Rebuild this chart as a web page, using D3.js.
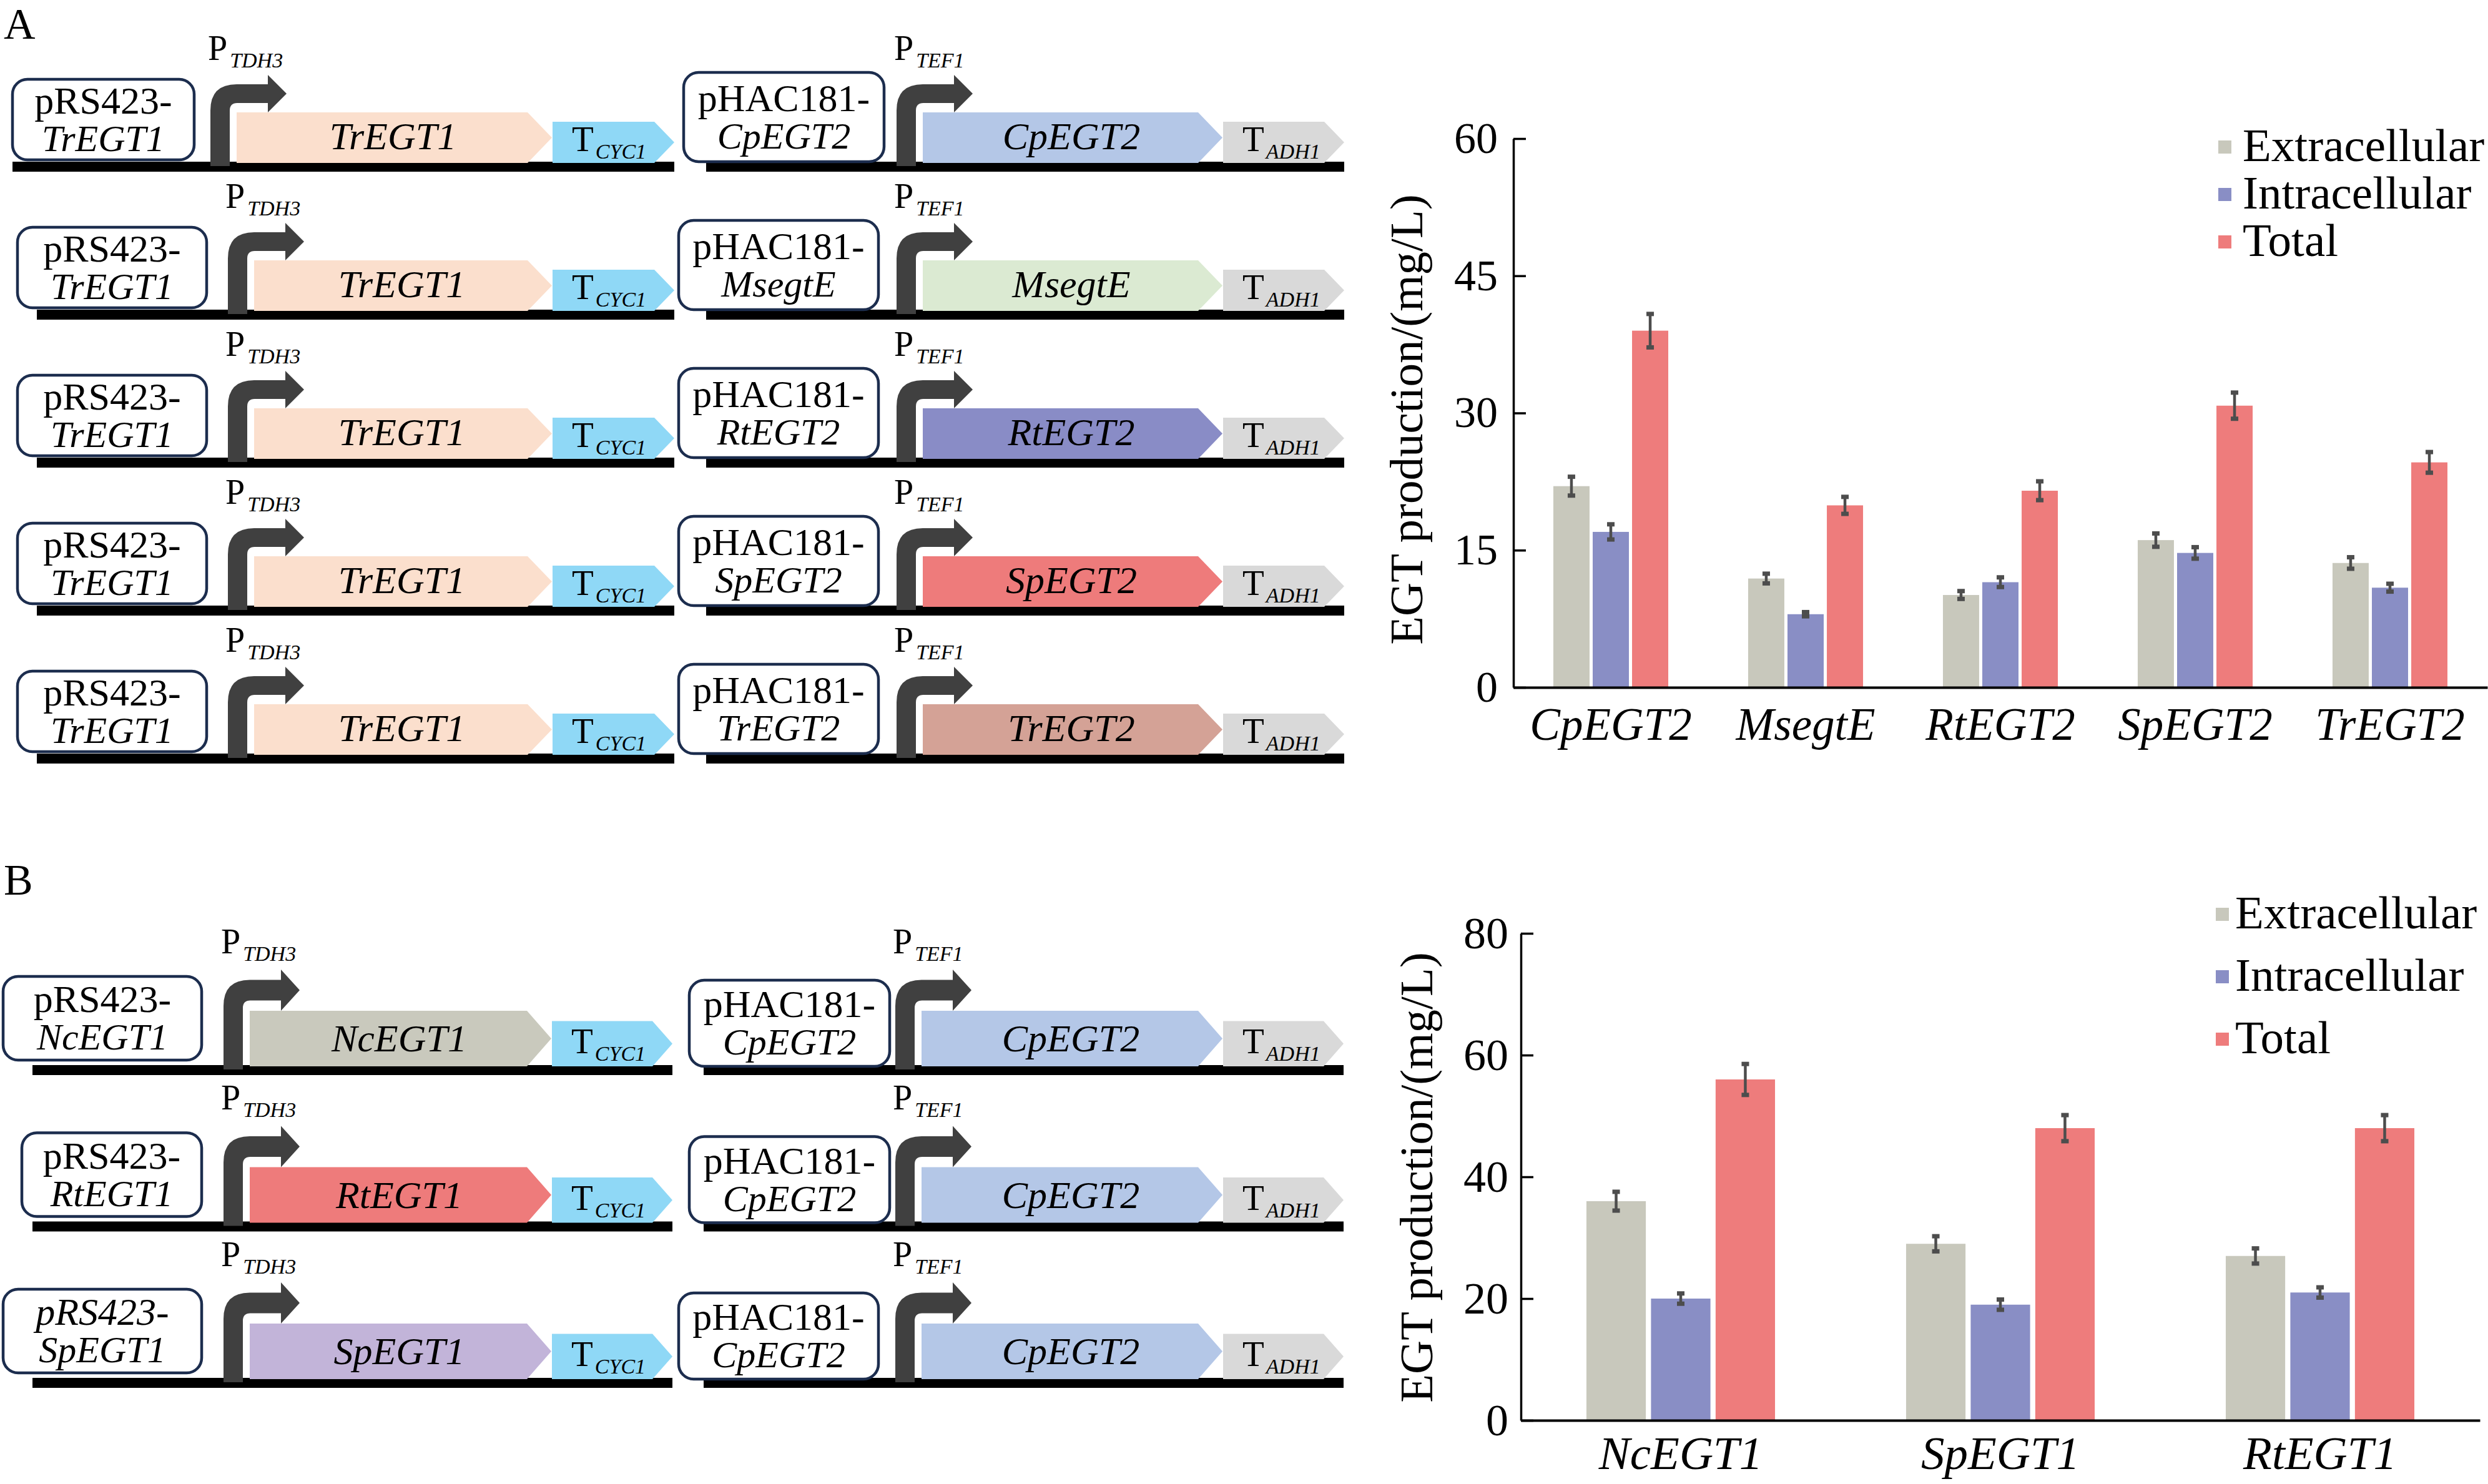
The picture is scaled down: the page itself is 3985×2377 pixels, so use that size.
<!DOCTYPE html>
<html>
<head>
<meta charset="utf-8">
<script src="https://cdn.jsdelivr.net/npm/d3@7"></script>
<style>
  body { margin: 0; background: #fff; }
  text { font-family: "Liberation Serif", "Times New Roman", serif; }
</style>
</head>
<body>
<div id="chart"></div>
<script>
const W = 3985, H = 2377;

// ---- bar chart data ----
const series = ["Extracellular", "Intracellular", "Total"];
const seriesColors = ["#c8c8bc", "#898ec5", "#ee7c7c"];

const catsA = ["CpEGT2", "MsegtE", "RtEGT2", "SpEGT2", "TrEGT2"];
const extA = [22.0, 11.9, 10.1, 16.1, 13.6];
const intA = [17.0, 8.0, 11.5, 14.7, 10.9];
const totA = [39.0, 19.9, 21.5, 30.8, 24.6];
const extErrA = [1.2, 0.7, 0.6, 0.9, 0.8];
const intErrA = [1.0, 0.4, 0.7, 0.8, 0.6];
const totErrA = [2.0, 1.1, 1.2, 1.6, 1.3];
const ticksA = [0, 15, 30, 45, 60];

const catsB = ["NcEGT1", "SpEGT1", "RtEGT1"];
const extB = [36, 29, 27];
const intB = [20, 19, 21];
const totB = [56, 48, 48];
const extErrB = [1.8, 1.5, 1.5];
const intErrB = [1.1, 1.1, 1.1];
const totErrB = [2.8, 2.4, 2.4];
const ticksB = [0, 20, 40, 60, 80];

// ---- construct data ----
const leftGenesA = ["TrEGT1", "TrEGT1", "TrEGT1", "TrEGT1", "TrEGT1"];
const rightGenesA = ["CpEGT2", "MsegtE", "RtEGT2", "SpEGT2", "TrEGT2"];
const leftGenesB = ["NcEGT1", "RtEGT1", "SpEGT1"];
const rightGenesB = ["CpEGT2", "CpEGT2", "CpEGT2"];

const geneColors = {
  TrEGT1: "#fbdfcd", CpEGT2: "#b4c7e7", MsegtE: "#dbead2", RtEGT2: "#898cc6",
  SpEGT2: "#ee7b7b", TrEGT2: "#d4a296", NcEGT1: "#c9c9bd", RtEGT1: "#ee7b7b",
  SpEGT1: "#c2b4d9"
};

const svg = d3.select("#chart").append("svg")
  .attr("width", W).attr("height", H)
  .attr("viewBox", `0 0 ${W} ${H}`);

// panel letters
svg.append("text").attr("x", 6).attr("y", 62).attr("font-size", 70).text("A");
svg.append("text").attr("x", 6).attr("y", 1433).attr("font-size", 70).text("B");

// ---------- genetic constructs ----------
function promoterPath(sx, yc, k) {
  const w = 31, t = 30 * k, R = 42, r = 12;
  const top = yc - t / 2, bot = yc + t / 2;
  const hb = sx + 92, tip = sx + 122, hh = 30 * k;
  const p = d3.path();
  p.moveTo(sx, 7);
  p.lineTo(sx, top + R);
  p.quadraticCurveTo(sx, top, sx + R, top);
  p.lineTo(hb, top);
  p.lineTo(hb, yc - hh);
  p.lineTo(tip, yc);
  p.lineTo(hb, yc + hh);
  p.lineTo(hb, bot);
  p.lineTo(sx + w + r, bot);
  p.quadraticCurveTo(sx + w, bot, sx + w, bot + r);
  p.lineTo(sx + w, 7);
  p.closePath();
  return p.toString();
}

function arrowShape(x0, x1, top, bot, head) {
  const mid = (top + bot) / 2;
  return `M${x0},${top}L${x1 - head},${top}L${x1},${mid}L${x1 - head},${bot}L${x0},${bot}Z`;
}

function construct(g, bb, o) {
  const k = o.k;
  const row = g.append("g").attr("transform", `translate(0,${bb})`);
  // backbone
  row.append("rect").attr("x", o.bbX0).attr("y", 0).attr("width", o.bbX1 - o.bbX0)
    .attr("height", 16).attr("fill", "#000");
  // gene
  const gx0 = o.stemX + 42, gx1 = o.termX0 - 1;
  row.append("path").attr("d", arrowShape(gx0, gx1, -79 * k, 2, 39))
    .attr("fill", geneColors[o.gene]);
  row.append("text").attr("x", (gx0 + gx1) / 2 - 2).attr("y", -20 * k)
    .attr("text-anchor", "middle").attr("font-size", 62).attr("font-style", "italic")
    .text(o.gene);
  // terminator
  row.append("path").attr("d", arrowShape(o.termX0, o.termX1, -64 * k, 2, 32))
    .attr("fill", o.termColor);
  const tt = row.append("text").attr("x", o.termX0 + 31).attr("y", -17 * k)
    .attr("font-size", 57).text("T");
  tt.append("tspan").attr("dx", 3).attr("dy", 12).attr("font-size", 34)
    .attr("font-style", "italic").text(o.term);
  // promoter
  row.append("path").attr("d", promoterPath(o.stemX, -109 * k, k))
    .attr("fill", "#404040");
  const pt = row.append("text").attr("x", o.stemX - 4).attr("y", -163 * k)
    .attr("font-size", 56).text("P");
  pt.append("tspan").attr("dx", 4).attr("dy", 12).attr("font-size", 34)
    .attr("font-style", "italic").text(o.prom);
  // plasmid box
  const [bx0, bx1] = o.box, [by0, by1] = o.boxY;
  row.append("rect").attr("x", bx0).attr("y", by0)
    .attr("width", bx1 - bx0).attr("height", by1 - by0)
    .attr("rx", 24).attr("fill", "#fff").attr("stroke", "#1c2d4e").attr("stroke-width", 4.5);
  const mid = (by0 + by1) / 2, cx = (bx0 + bx1) / 2;
  row.append("text").attr("x", cx).attr("y", mid - 10).attr("text-anchor", "middle")
    .attr("font-size", 62).attr("font-style", o.line1Italic ? "italic" : "normal")
    .text(o.plasmid + "-");
  row.append("text").attr("x", cx).attr("y", mid + 50).attr("text-anchor", "middle")
    .attr("font-size", 60).attr("font-style", "italic").text(o.gene);
}

const gA = svg.append("g");
const rowA = d3.scalePoint().domain(d3.range(leftGenesA.length)).range([259, 1207]);
leftGenesA.forEach((gene, i) => {
  construct(gA, rowA(i), {
    k: 1, gene, plasmid: "pRS423", prom: "TDH3", term: "CYC1", termColor: "#8fd8f6",
    bbX0: i === 0 ? 20 : 59, bbX1: 1080, stemX: i === 0 ? 337 : 365,
    termX0: 885, termX1: 1080,
    box: i === 0 ? [20, 311] : [28, 331], boxY: [-132, -3]
  });
});
rightGenesA.forEach((gene, i) => {
  construct(gA, rowA(i), {
    k: 1, gene, plasmid: "pHAC181", prom: "TEF1", term: "ADH1", termColor: "#d9d9d9",
    bbX0: 1131, bbX1: 2153, stemX: 1436, termX0: 1959, termX1: 2153,
    box: i === 0 ? [1095, 1416] : [1087, 1407], boxY: [-143, 0]
  });
});

const gB = svg.append("g");
const rowB = d3.scalePoint().domain(d3.range(leftGenesB.length)).range([1706, 2207]);
leftGenesB.forEach((gene, i) => {
  construct(gB, rowB(i), {
    k: 1.1, gene, plasmid: "pRS423", prom: "TDH3", term: "CYC1", termColor: "#8fd8f6",
    line1Italic: i === 2,
    bbX0: 52, bbX1: 1077, stemX: 358, termX0: 884, termX1: 1077,
    box: i === 1 ? [35, 323] : [5, 323], boxY: [-142, -8]
  });
});
rightGenesB.forEach((gene, i) => {
  construct(gB, rowB(i), {
    k: 1.1, gene, plasmid: "pHAC181", prom: "TEF1", term: "ADH1", termColor: "#d9d9d9",
    bbX0: 1127, bbX1: 2152, stemX: 1434, termX0: 1959, termX1: 2152,
    box: i === 2 ? [1087, 1407] : [1104, 1425], boxY: [-136, 2]
  });
});

// ---------- bar charts ----------
function barChart(o) {
  const g = svg.append("g");
  const y = d3.scaleLinear().domain([0, o.max]).range([o.y0, o.y1]);
  const x0 = d3.scaleBand().domain(o.cats).range([o.xa, o.xb])
    .paddingInner(0.41).paddingOuter(0.205);
  const x1 = d3.scaleBand().domain(series).range([0, x0.bandwidth()]).paddingInner(0.08);

  const groups = o.cats.map((c, i) => series.map((s, j) => ({
    cat: c, s, v: o.vals[j][i], e: o.errs[j][i], color: seriesColors[j]
  })));

  const grp = g.selectAll("g.grp").data(groups).join("g")
    .attr("class", "grp")
    .attr("transform", d => `translate(${x0(d[0].cat)},0)`);

  grp.selectAll("rect.bar").data(d => d).join("rect")
    .attr("class", "bar")
    .attr("x", d => x1(d.s)).attr("width", x1.bandwidth())
    .attr("y", d => y(d.v)).attr("height", d => y(0) - y(d.v))
    .attr("fill", d => d.color);

  const eb = grp.selectAll("g.err").data(d => d).join("g").attr("class", "err")
    .attr("transform", d => `translate(${x1(d.s) + x1.bandwidth() / 2},0)`);
  eb.append("line")
    .attr("y1", d => y(d.v + d.e)).attr("y2", d => y(d.v - d.e))
    .attr("stroke", "#4d4d4d").attr("stroke-width", 4.5);
  eb.append("rect").attr("x", -6).attr("width", 12).attr("height", 7)
    .attr("y", d => y(d.v + d.e) - 1).attr("fill", "#4d4d4d");
  eb.append("rect").attr("x", -6).attr("width", 12).attr("height", 7)
    .attr("y", d => y(d.v - d.e) - 6).attr("fill", "#4d4d4d");

  // y axis
  const ya = g.append("g").attr("transform", `translate(${o.xa},0)`)
    .call(d3.axisLeft(y).tickValues(o.ticks).tickSize(-20).tickSizeOuter(0).tickPadding(o.tickPad));
  ya.selectAll("path,line").attr("stroke", "#000").attr("stroke-width", 3.5);
  ya.selectAll("text").attr("font-size", o.tickFont)
    .attr("font-family", "'Liberation Serif', 'Times New Roman', serif").attr("fill", "#000");

  // x axis
  const xa = g.append("g").attr("transform", `translate(0,${o.y0})`)
    .call(d3.axisBottom(x0).tickSize(0).tickSizeOuter(0).tickPadding(o.catPad));
  xa.select("path").attr("stroke", "#000").attr("stroke-width", 4);
  xa.selectAll("text").attr("font-size", o.catFont).attr("font-style", "italic")
    .attr("font-family", "'Liberation Serif', 'Times New Roman', serif").attr("fill", "#000");

  // y title
  g.append("text")
    .attr("transform", `translate(${o.titleX},${o.titleY}) rotate(-90)`)
    .attr("text-anchor", "middle").attr("font-size", 75)
    .text("EGT production/(mg/L)");

  // legend
  const lg = g.selectAll("g.leg").data(series).join("g").attr("class", "leg")
    .attr("transform", (d, i) => `translate(${o.legX},${o.legY + i * o.legStep})`);
  lg.append("rect").attr("x", 0).attr("y", -33).attr("width", 21).attr("height", 21)
    .attr("fill", (d, i) => seriesColors[i]);
  lg.append("text").attr("x", o.legTextDx).attr("y", 0)
    .attr("font-size", o.legFont).text(d => d);
}

barChart({
  cats: catsA, vals: [extA, intA, totA], errs: [extErrA, intErrA, totErrA],
  max: 60, ticks: ticksA, y0: 1101, y1: 222, xa: 2424, xb: 3984,
  tickPad: 25, tickFont: 70, catPad: 32, catFont: 73,
  titleX: 2278, titleY: 672,
  legX: 3553, legY: 258, legStep: 76, legTextDx: 39, legFont: 75
});

barChart({
  cats: catsB, vals: [extB, intB, totB], errs: [extErrB, intErrB, totErrB],
  max: 80, ticks: ticksB, y0: 2275, y1: 1495, xa: 2436, xb: 3972,
  tickPad: 20, tickFont: 72, catPad: 25, catFont: 75,
  titleX: 2294, titleY: 1886,
  legX: 3549, legY: 1487, legStep: 100, legTextDx: 31, legFont: 75
});
</script>
</body>
</html>
